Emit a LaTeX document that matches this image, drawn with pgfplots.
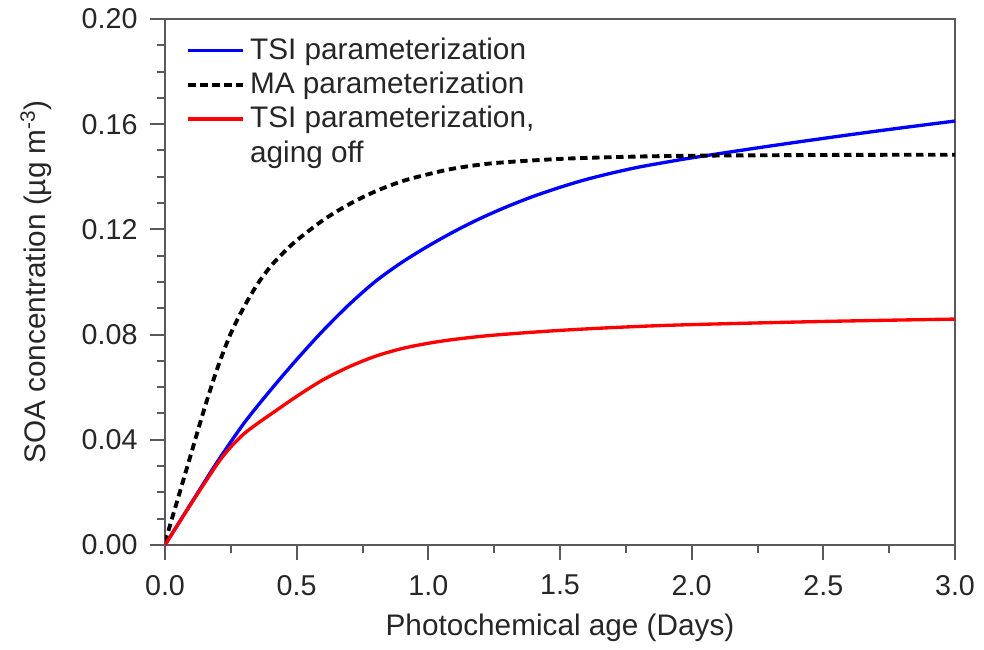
\documentclass[border=0pt]{standalone}
\usepackage{fontspec}
\setmainfont{Liberation Sans}
\usepackage{pgfplots}
\pgfplotsset{compat=1.18}
\definecolor{axgray}{RGB}{90,90,90}
\begin{document}
\fontsize{21.5pt}{25pt}\selectfont
\begin{tikzpicture}
\path[use as bounding box] (-123.75pt,-78pt) rectangle (614.25pt,408.75pt);
\begin{axis}[
  at={(0pt,0pt)}, anchor=south west,
  scale only axis,
  width=592.5pt, height=394.5pt,
  xmin=0, xmax=3, ymin=0, ymax=0.2,
  xtick={0,0.5,...,3.0},
  ytick={0,0.04,...,0.2},
  minor x tick num=1,
  minor y tick num=3,
  xtick pos=bottom, ytick pos=left,
  tick align=outside,
  major tick length=11.25pt,
  minor tick length=6pt,
  every tick/.style={axgray, line width=1.5pt},
  axis line style={axgray, line width=1.5pt},
  /pgf/number format/assume math mode=true,
  xticklabel style={/pgf/number format/.cd, fixed, fixed zerofill, precision=1},
  yticklabel style={/pgf/number format/.cd, fixed, fixed zerofill, precision=2},
  tick label style={font=\fontsize{21.5pt}{25pt}\selectfont, text=black!85},
  label style={font=\fontsize{22.3pt}{26pt}\selectfont, text=black!85},
  xticklabel shift=4pt,
  yticklabel shift=2pt,
  xlabel={Photochemical age (Days)},
  ylabel={SOA concentration (µg m\textsuperscript{-3})},
  xlabel style={at={(axis description cs:0.5,0)}, anchor=north, yshift=-44pt},
  ylabel style={at={(axis description cs:0,0.5)}, anchor=south, yshift=78pt},
  legend cell align=left,
  legend style={at={(0.022,0.975)}, anchor=north west, draw=none, fill=none,
    font=\fontsize{22.3pt}{26pt}\selectfont, text=black!85,
    row sep=2.3pt,
    nodes={inner xsep=4pt}},
  legend image code/.code={\draw[#1, line width=2.6pt] (0pt,0pt) -- (41pt,0pt);},
]
\addplot[blue, line width=2.5pt, smooth] coordinates {
(0,0) (0.1,0.016) (0.2,0.0318) (0.3,0.0463) (0.4,0.0588) (0.5,0.0705)
(0.6,0.0815) (0.7,0.0915) (0.8,0.1003) (0.9,0.1075) (1.0,0.1137)
(1.1,0.1193) (1.2,0.1243) (1.3,0.1287) (1.4,0.1326) (1.5,0.1360)
(1.6,0.1390) (1.7,0.1415) (1.8,0.1437) (1.9,0.1455) (2.0,0.1472)
(2.25,0.1510) (2.5,0.1546) (2.75,0.1580) (3.0,0.1612)
};
\addlegendentry{TSI parameterization}
\addplot[black, line width=2.9pt, dash pattern=on 5.5pt off 3.5pt, smooth] coordinates {
(0,0.001) (0.05,0.018) (0.1,0.035) (0.15,0.052) (0.2,0.0675) (0.25,0.0805)
(0.3,0.0905) (0.35,0.0990) (0.4,0.1058) (0.45,0.1112) (0.5,0.1158)
(0.6,0.1235) (0.7,0.1296) (0.8,0.1345) (0.9,0.1383) (1.0,0.1410)
(1.1,0.1432) (1.25,0.1452) (1.5,0.1468) (1.75,0.1476) (2.0,0.1480)
(2.5,0.1483) (3.0,0.1484)
};
\addlegendentry{MA parameterization}
\addplot[red, line width=2.5pt, smooth] coordinates {
(0,0) (0.1,0.0158) (0.2,0.031) (0.25,0.0373) (0.3,0.0423) (0.35,0.0461)
(0.4,0.0496) (0.5,0.0565) (0.6,0.0628) (0.7,0.0678) (0.8,0.0718)
(0.9,0.0747) (1.0,0.0767) (1.1,0.0782) (1.25,0.0798) (1.5,0.0816)
(1.75,0.0829) (2.0,0.0838) (2.5,0.0850) (3.0,0.0859)
};
\addlegendentry{TSI parameterization,}
\addlegendimage{empty legend}
\addlegendentry{aging off}
\end{axis}
\end{tikzpicture}
\end{document}
